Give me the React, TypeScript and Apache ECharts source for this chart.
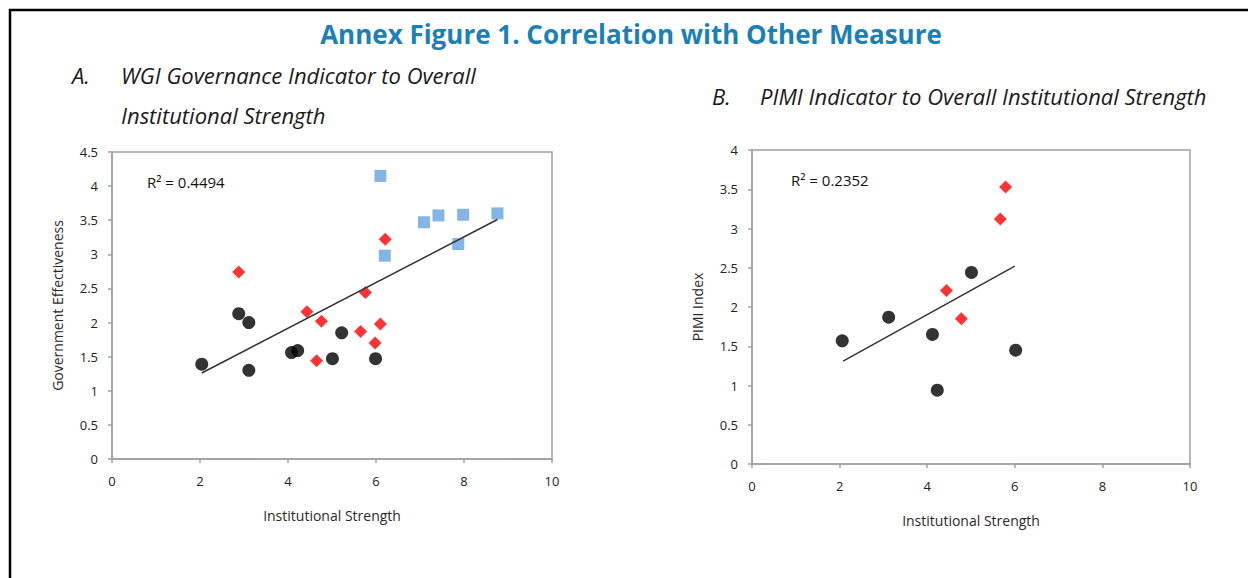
import React, { useEffect, useRef } from "react";
import * as echarts from "echarts";

// Panel A: WGI Government Effectiveness vs Institutional Strength
const aCircles: number[][] = [
  [2.04, 1.39], [2.88, 2.13], [3.11, 2.0], [3.11, 1.3], [4.08, 1.56],
  [4.22, 1.59], [5.01, 1.47], [5.22, 1.85], [5.99, 1.47],
];
const aDiamonds: number[][] = [
  [2.88, 2.74], [4.43, 2.16], [4.76, 2.02], [4.65, 1.44], [5.76, 2.44],
  [5.65, 1.87], [5.98, 1.7], [6.1, 1.98], [6.21, 3.22],
];
const aSquares: number[][] = [
  [6.1, 4.15], [6.2, 2.98], [7.09, 3.47], [7.42, 3.57], [7.98, 3.58],
  [7.87, 3.15], [8.76, 3.6],
];
const aTrend: number[][] = [[2.04, 1.26], [8.76, 3.51]];
const aR2 = "R² = 0.4494";

// Panel B: PIMI Index vs Institutional Strength
const bCircles: number[][] = [
  [2.06, 1.57], [3.12, 1.87], [4.12, 1.65], [4.23, 0.94], [5.01, 2.44], [6.02, 1.45],
];
const bDiamonds: number[][] = [
  [4.44, 2.21], [4.78, 1.85], [5.67, 3.12], [5.79, 3.53],
];
const bTrend: number[][] = [[2.08, 1.31], [6.0, 2.52]];
const bR2 = "R² = 0.2352";

const title = "Annex Figure 1. Correlation with Other Measure";
const xName = "Institutional Strength";
const aYName = "Government Effectiveness";
const bYName = "PIMI Index";

const AXIS_GRAY = "#a0a0a0";
const LABEL_FONT = "'Open Sans', 'DejaVu Sans', sans-serif";

function xAxisDef(gridIndex: number) {
  return {
    type: "value",
    gridIndex,
    min: 0,
    max: 10,
    interval: 2,
    name: xName,
    nameLocation: "middle",
    nameGap: 49,
    nameTextStyle: { color: "#2a2a2a", fontSize: 14, fontFamily: LABEL_FONT },
    axisLine: { show: true, lineStyle: { color: AXIS_GRAY, width: 1.5 } },
    axisTick: { show: true, length: 4, lineStyle: { color: AXIS_GRAY, width: 1.5 } },
    axisLabel: { color: "#222", fontSize: 13, margin: 15, fontFamily: LABEL_FONT },
    splitLine: { show: false },
  };
}

function yAxisDef(gridIndex: number, max: number, name: string) {
  return {
    type: "value",
    gridIndex,
    min: 0,
    max,
    interval: 0.5,
    name,
    nameLocation: "middle",
    nameGap: 48,
    nameTextStyle: { color: "#2a2a2a", fontSize: 14, fontFamily: LABEL_FONT },
    axisLine: { show: true, lineStyle: { color: AXIS_GRAY, width: 1.5 } },
    axisTick: { show: true, length: 4, lineStyle: { color: AXIS_GRAY, width: 1.5 } },
    axisLabel: { color: "#222", fontSize: 13, margin: 14, fontFamily: LABEL_FONT },
    splitLine: { show: false },
  };
}

export default function App() {
  const ref = useRef<HTMLDivElement>(null);
  useEffect(() => {
    if (!ref.current) return;
    const chart = echarts.init(ref.current, undefined, { renderer: "svg" });
    const scatterBase = { type: "scatter", z: 3 };
    const subFont = "italic 22px 'Open Sans', sans-serif";
    chart.setOption({
      animation: false,
      backgroundColor: "#ffffff",
      grid: [
        { left: 112, top: 152, width: 440, height: 307, show: true, borderColor: AXIS_GRAY, borderWidth: 1.5, backgroundColor: "transparent" },
        { left: 752, top: 150, width: 438, height: 314, show: true, borderColor: AXIS_GRAY, borderWidth: 1.5, backgroundColor: "transparent" },
      ],
      xAxis: [xAxisDef(0), xAxisDef(1)],
      yAxis: [yAxisDef(0, 4.5, aYName), yAxisDef(1, 4, bYName)],
      graphic: [
        { type: "line", shape: { x1: 9, y1: 10, x2: 1248, y2: 10 }, style: { stroke: "#000", lineWidth: 2.5 } },
        { type: "line", shape: { x1: 10, y1: 9, x2: 10, y2: 578 }, style: { stroke: "#000", lineWidth: 2.5 } },
        { type: "text", x: 631, y: 34, style: { text: title, fill: "#1a80b6", font: "bold 26px 'Open Sans', sans-serif", textAlign: "center", textVerticalAlign: "middle" } },
        { type: "text", x: 72, y: 75, style: { text: "A.", fill: "#1a1a1a", font: subFont, textVerticalAlign: "middle" } },
        { type: "text", x: 121, y: 75, style: { text: "WGI Governance Indicator to Overall", fill: "#1a1a1a", font: subFont, textVerticalAlign: "middle" } },
        { type: "text", x: 121, y: 115, style: { text: "Institutional Strength", fill: "#1a1a1a", font: subFont, textVerticalAlign: "middle" } },
        { type: "text", x: 712, y: 96, style: { text: "B.", fill: "#1a1a1a", font: subFont, textVerticalAlign: "middle" } },
        { type: "text", x: 760, y: 96, style: { text: "PIMI Indicator to Overall Institutional Strength", fill: "#1a1a1a", font: subFont, textVerticalAlign: "middle" } },
        { type: "text", x: 147, y: 182, z: 10, style: { text: aR2, fill: "#111", font: "15px 'Open Sans', sans-serif", textVerticalAlign: "middle" } },
        { type: "text", x: 791, y: 180, z: 10, style: { text: bR2, fill: "#111", font: "15px 'Open Sans', sans-serif", textVerticalAlign: "middle" } },
      ],
      series: [
        { ...scatterBase, name: "A circles", xAxisIndex: 0, yAxisIndex: 0, data: aCircles, symbol: "circle", symbolSize: 13, itemStyle: { color: "#000" } },
        { ...scatterBase, name: "A diamonds", xAxisIndex: 0, yAxisIndex: 0, data: aDiamonds, symbol: "diamond", symbolSize: 13, itemStyle: { color: "#ff0000" } },
        { ...scatterBase, name: "A squares", xAxisIndex: 0, yAxisIndex: 0, data: aSquares, symbol: "rect", symbolSize: 12, itemStyle: { color: "#66a3dd" } },
        { type: "line", name: "A trend", xAxisIndex: 0, yAxisIndex: 0, data: aTrend, showSymbol: false, symbol: "none", lineStyle: { color: "#333", width: 1.5 }, z: 4 },
        { ...scatterBase, name: "B circles", xAxisIndex: 1, yAxisIndex: 1, data: bCircles, symbol: "circle", symbolSize: 13, itemStyle: { color: "#000" } },
        { ...scatterBase, name: "B diamonds", xAxisIndex: 1, yAxisIndex: 1, data: bDiamonds, symbol: "diamond", symbolSize: 13, itemStyle: { color: "#ff0000" } },
        { type: "line", name: "B trend", xAxisIndex: 1, yAxisIndex: 1, data: bTrend, showSymbol: false, symbol: "none", lineStyle: { color: "#333", width: 1.5 }, z: 4 },
      ],
    });
    return () => chart.dispose();
  }, []);
  return (
    <div
      ref={ref}
      style={{ position: "absolute", left: 0, top: 0, width: 1248, height: 578 }}
    />
  );
}
